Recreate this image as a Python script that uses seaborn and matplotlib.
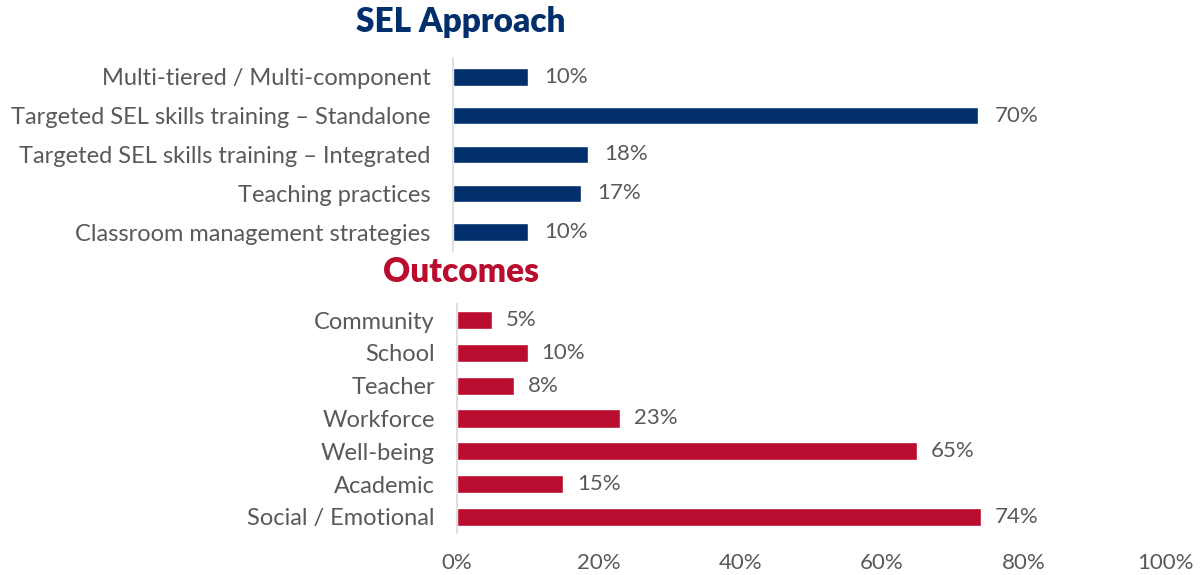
import matplotlib
matplotlib.use("Agg")
import matplotlib.pyplot as plt
import seaborn as sns

# data
approach_cats = ["Multi-tiered / Multi-component",
                 "Targeted SEL skills training \u2013 Standalone",
                 "Targeted SEL skills training \u2013 Integrated",
                 "Teaching practices",
                 "Classroom management strategies"]
approach_vals = [10, 70, 18, 17, 10]

outcome_cats = ["Community", "School", "Teacher", "Workforce",
                "Well-being", "Academic", "Social / Emotional"]
outcome_vals = [5, 10, 8, 23, 65, 15, 74]

x_ticks = [0, 20, 40, 60, 80, 100]

NAVY = "#002F6C"
RED = "#BA0C2F"
GREY = "#595959"

sns.set_style("white")
plt.rcParams["font.family"] = ["Lato", "DejaVu Sans"]

W, H = 1204, 575
fig = plt.figure(figsize=(W / 100, H / 100), dpi=100)


def px_axes(left, top, right, bottom):
    return fig.add_axes([left / W, 1 - bottom / H, (right - left) / W, (bottom - top) / H])


def style(ax):
    for s in ["top", "right", "bottom"]:
        ax.spines[s].set_visible(False)
    ax.spines["left"].set_color("#d9d9d9")
    ax.spines["left"].set_linewidth(1.2)
    ax.set_xlabel("")
    ax.set_ylabel("")
    ax.tick_params(axis="y", length=0, pad=16, labelsize=17, labelcolor=GREY)
    ax.set_xlim(0, 100)


# SEL approach panel
ax1 = px_axes(453, 57.6, 1203, 251.4)
sns.barplot(x=approach_vals, y=approach_cats, orient="h", color=NAVY,
            width=0.45, ax=ax1, saturation=1)
style(ax1)
ax1.set_xticks([])
ax1.bar_label(ax1.containers[0], labels=[f"{v}%" for v in approach_vals],
              padding=12, fontsize=16, color=GREY)

# Outcomes panel
ax2 = px_axes(457, 303.6, 1165, 533.4)
sns.barplot(x=outcome_vals, y=outcome_cats, orient="h", color=RED,
            width=0.55, ax=ax2, saturation=1)
style(ax2)
ax2.set_xticks(x_ticks)
ax2.set_xticklabels([f"{t}%" for t in x_ticks])
ax2.tick_params(axis="x", length=0, pad=14, labelsize=16, labelcolor=GREY)
ax2.bar_label(ax2.containers[0], labels=[f"{v}%" for v in outcome_vals],
              padding=10, fontsize=16, color=GREY)

fig.text(461 / W, 1 - 22 / H, "SEL Approach", ha="center", va="center",
         fontsize=24, fontweight="heavy", color=NAVY)
fig.text(461 / W, 1 - 272 / H, "Outcomes", ha="center", va="center",
         fontsize=24, fontweight="heavy", color=RED)

fig.savefig("out.png", dpi=100)
